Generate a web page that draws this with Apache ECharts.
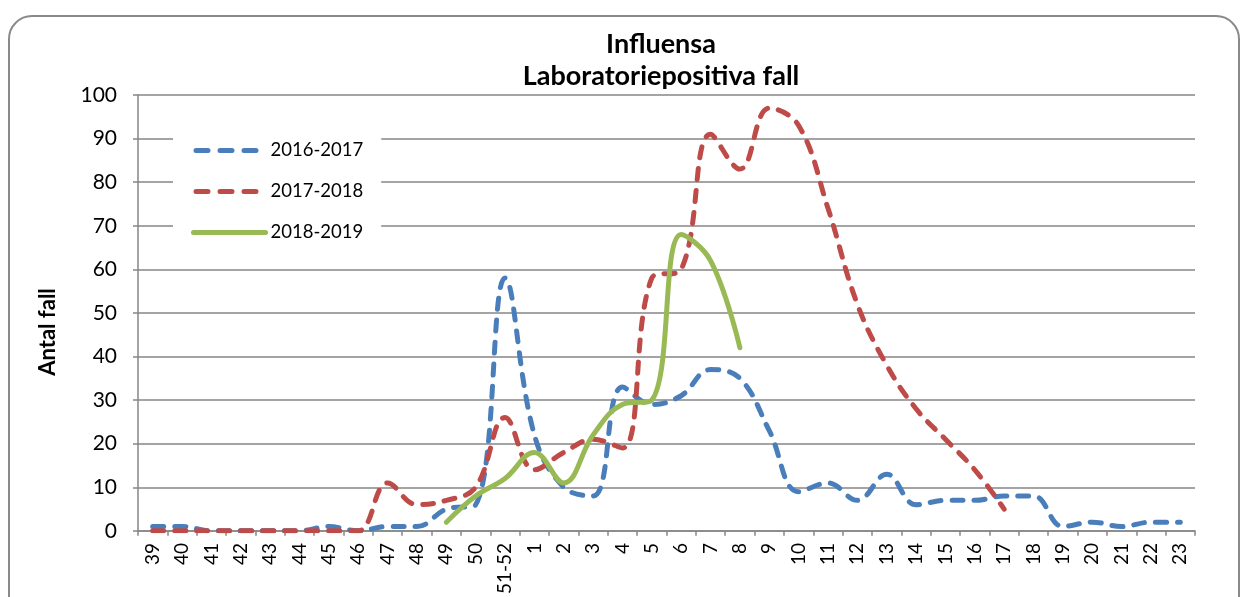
<!DOCTYPE html>
<html>
<head>
<meta charset="utf-8">
<title>Influensa</title>
<script src="https://cdn.jsdelivr.net/npm/echarts@6/dist/echarts.min.js"></script>
<style>
  html, body { margin: 0; padding: 0; background: #fff; overflow: hidden; }
  #frame {
    position: absolute; left: 8px; top: 15px; width: 1232px; height: 640px;
    border: 2px solid #8a8a8a; border-radius: 24px; box-sizing: border-box;
  }
  #chart { position: absolute; left: 0; top: 0; width: 1248px; height: 597px; }
</style>
</head>
<body>
<div id="frame"></div>
<div id="chart"></div>
<script>
// veckor
const weeks = ["39","40","41","42","43","44","45","46","47","48","49","50","51-52",
  "1","2","3","4","5","6","7","8","9","10","11","12","13","14","15","16","17","18",
  "19","20","21","22","23"];

// antal fall per säsong
const s2016 = [1,1,0,0,0,0,1,0,1,1,5,6,58,22,10,8,33,29,31,37,35,23,9,11,7,13,6,7,7,8,8,1,2,1,2,2];
const s2017 = [0,0,0,0,0,0,0,0,11,6,7,10,26,14,18,21,19,58,60,91,83,97,93,74,52,38,28,21,14,5];
const s2018 = [null,null,null,null,null,null,null,null,null,null,2,8,12,18,11,22,29,30,68,62,42];

const seriesNames = ["2016-2017","2017-2018","2018-2019"];
const colors = ["#4a7ebb","#be4b48","#98b954"];
const dashed = [true, true, false];

const yTicks = { min: 0, max: 100, interval: 10 };

const font = "Lato, 'Open Sans', sans-serif";

var myChart = echarts.init(document.getElementById("chart"));

function lineSerie(name, data, color, isDashed) {
  return {
    name: name,
    type: "line",
    data: data,
    smooth: 0.4,
    symbol: "none",
    connectNulls: false,
    lineStyle: {
      color: color,
      width: 5,
      type: isDashed ? [11, 11] : "solid",
      cap: "round",
    },
    itemStyle: { color: color },
  };
}

// legendens linjer: tjockare streck än i diagrammet
let legendData = seriesNames.map((n, i) => ({
  name: n,
  lineStyle: {
    color: colors[i],
    width: 5,
    type: dashed[i] ? [12, 12] : "solid",
    dashOffset: dashed[i] ? -2.5 : 0,
    cap: "round",
  },
}));

var option = {
  animation: false,
  textStyle: { fontFamily: font },
  title: {
    text: "Influensa\nLaboratoriepositiva fall",
    left: 656,
    textAlign: "center",
    top: 23,
    textStyle: {
      fontFamily: font,
      fontSize: 27,
      fontWeight: "bold",
      color: "#000",
      lineHeight: 32,
    },
  },
  legend: {
    orient: "vertical",
    left: 173,
    top: 129,
    padding: [12, 18, 12, 18],
    backgroundColor: "#fff",
    itemWidth: 72,
    itemHeight: 14,
    itemGap: 22,
    itemStyle: { opacity: 0 },
    textStyle: { fontFamily: font, fontSize: 18.5, color: "#000" },
    data: legendData,
  },
  grid: { left: 138, right: 53, top: 95, bottom: 66 },
  xAxis: {
    type: "category",
    data: weeks,
    boundaryGap: true,
    axisLine: { lineStyle: { color: "#868686", width: 1.5 } },
    axisTick: { show: true, length: 5, lineStyle: { color: "#868686", width: 1.5 } },
    axisLabel: {
      interval: 0,
      rotate: 90,
      margin: 12,
      fontFamily: font,
      fontSize: 19,
      color: "#000",
    },
  },
  yAxis: {
    type: "value",
    min: yTicks.min,
    max: yTicks.max,
    interval: yTicks.interval,
    axisLine: { show: true, lineStyle: { color: "#868686", width: 1.5 } },
    axisTick: { show: true, length: 5, lineStyle: { color: "#868686", width: 1.5 } },
    splitLine: { lineStyle: { color: "#868686", width: 1.5 } },
    axisLabel: { margin: 21, fontFamily: font, fontSize: 21, color: "#000" },
  },
  graphic: [
    {
      type: "text",
      x: 48,
      y: 332,
      rotation: Math.PI / 2,
      style: {
        text: "Antal fall",
        fontFamily: font,
        fontSize: 22,
        fontWeight: "bold",
        fill: "#000",
        textAlign: "center",
        textVerticalAlign: "middle",
      },
    },
  ],
  series: [
    lineSerie(seriesNames[0], s2016, colors[0], dashed[0]),
    lineSerie(seriesNames[1], s2017, colors[1], dashed[1]),
    lineSerie(seriesNames[2], s2018, colors[2], dashed[2]),
  ],
};

myChart.setOption(option);
</script>
</body>
</html>
